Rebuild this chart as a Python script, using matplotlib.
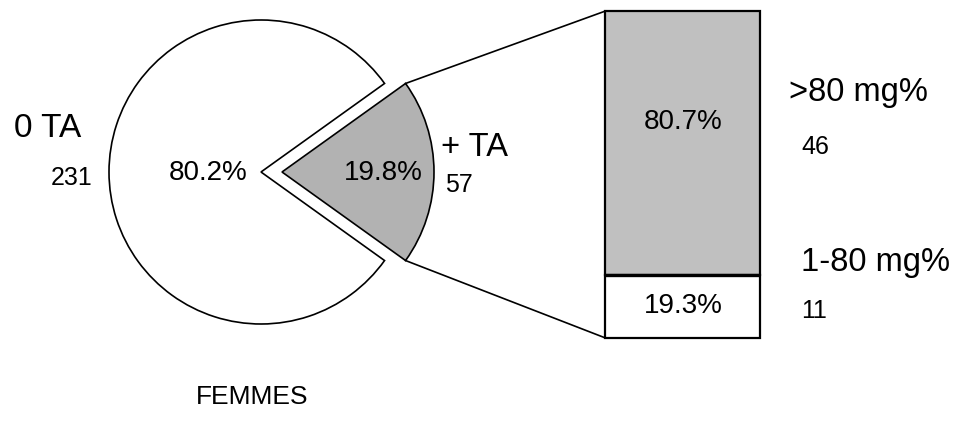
import numpy as np
import matplotlib.pyplot as plt

plt.rcParams['font.family'] = ['Liberation Sans', 'DejaVu Sans']

# main pie: women without / with TA
pie_labels = ['+ TA', '0 TA']
pie_counts = [57, 231]
# breakdown of the "+ TA" slice
bar_labels = ['1-80 mg%', '>80 mg%']
bar_counts = [11, 46]
title = 'FEMMES'

W, H = 956, 425
fig = plt.figure(figsize=(W / 100, H / 100), dpi=100)
ax = fig.add_axes([0, 0, 1, 1])

total = sum(pie_counts)
span = pie_counts[0] / total * 360
start = -span / 2

r = 152
cx, cy = 261, H - 172
shift = 21
# explode is in data units here since radius != 1
wedges, _ = ax.pie(pie_counts, colors=['#b2b2b2', 'white'], startangle=start,
                   radius=r, center=(cx, cy), explode=[shift, 0],
                   wedgeprops=dict(edgecolor='black', linewidth=1.2))

# percentages inside the pie
ax.text(383, cy - 1, f'{pie_counts[0] / total * 100:.1f}%', fontsize=20,
        ha='center', va='center')
ax.text(208, cy - 1, f'{pie_counts[1] / total * 100:.1f}%', fontsize=20,
        ha='center', va='center')

ax.text(14, H - 128, pie_labels[1], fontsize=24, ha='left', va='center')
ax.text(93, H - 178, str(pie_counts[1]), fontsize=18, ha='right', va='center')
ax.text(441, H - 147, pie_labels[0], fontsize=23.5, ha='left', va='center')
ax.text(445, H - 185, str(pie_counts[0]), fontsize=18, ha='left', va='center')

# stacked bar for the breakdown
bx, bw = 683, 155
b_bottom, b_height = H - 338, 327
scale = b_height / sum(bar_counts)
ax.bar(bx, bar_counts[0] * scale, width=bw, bottom=b_bottom, color='white',
       edgecolor='black', linewidth=1.6)
ax.bar(bx, bar_counts[1] * scale, width=bw, bottom=b_bottom + bar_counts[0] * scale,
       color='#c0c0c0', edgecolor='black', linewidth=1.6)
ax.plot([bx - bw / 2, bx + bw / 2], [b_bottom + bar_counts[0] * scale] * 2,
        color='black', linewidth=2.4, solid_capstyle='butt')

sub_total = sum(bar_counts)
ax.text(bx, b_bottom + bar_counts[0] * scale / 2, f'{bar_counts[0] / sub_total * 100:.1f}%',
        fontsize=20, ha='center', va='center')
ax.text(bx, H - 122, f'{bar_counts[1] / sub_total * 100:.1f}%',
        fontsize=20, ha='center', va='center')

ax.text(789, H - 92, bar_labels[1], fontsize=23.5, ha='left', va='center')
ax.text(801, H - 147, str(bar_counts[1]), fontsize=18, ha='left', va='center')
ax.text(801, H - 263, bar_labels[0], fontsize=23.5, ha='left', va='center')
ax.text(801, H - 311, str(bar_counts[0]), fontsize=18, ha='left', va='center')

# connector lines from the exploded slice to the bar
gx = cx + shift
for ang, by in [(np.radians(-start), b_bottom + b_height), (np.radians(start), b_bottom)]:
    px, py = gx + r * np.cos(ang), cy + r * np.sin(ang)
    ax.plot([px, bx - bw / 2], [py, by], color='black', linewidth=1.2)

ax.text(252, H - 397, title, fontsize=19, ha='center', va='center')

ax.set_xlim(0, W)
ax.set_ylim(0, H)
ax.set_aspect('auto')
ax.axis('off')

fig.savefig('out.png', dpi=100, facecolor='white')
